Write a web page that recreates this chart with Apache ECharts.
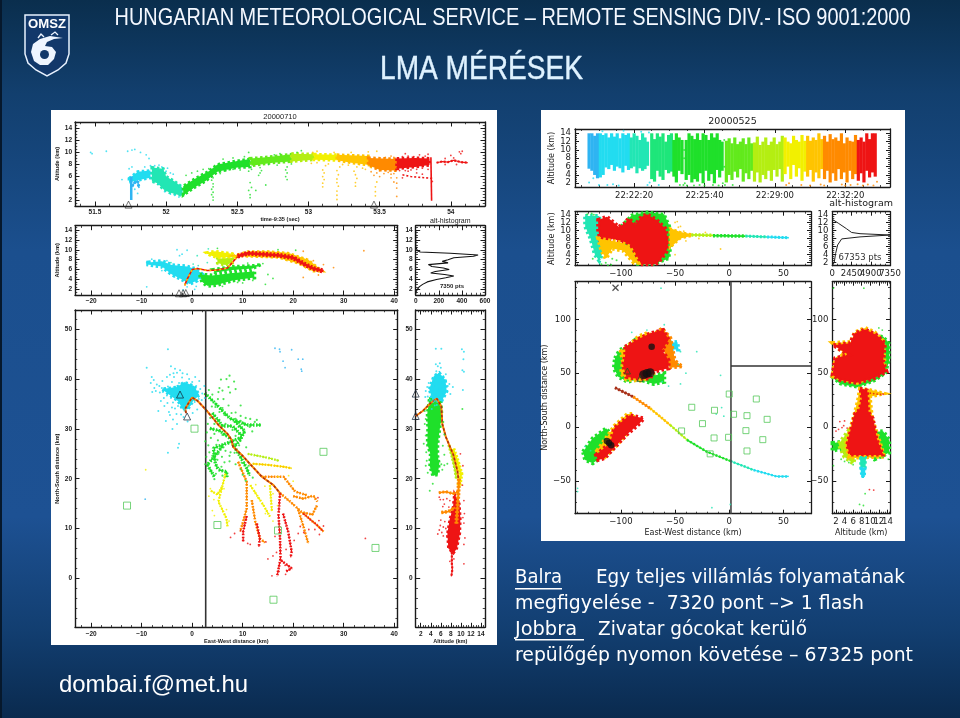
<!DOCTYPE html>
<html><head><meta charset="utf-8"><style>html,body{margin:0;padding:0;background:#123f6e}#c{width:960px;height:718px}</style>
<script src="https://cdn.jsdelivr.net/npm/echarts@6/dist/echarts.min.js"></script></head><body><div id="c"></div>
<script>
// ---------- tick labels
const clockLabels={0:'22:22:20',200:'22:25:40',400:'22:29:00',600:'22:32:20'};
// ---------- panel A: altitude vs time (20000710)
const aBlueCol=[[51.755,2.1],[51.755,6]];
const aBlue=[[51.76,4.4],[51.78,5],[51.8,5.2],[51.81,4.1]];
const aCyanBand=[[51.74,5.7],[51.8,6.8],[51.89,7],[51.89,5.8],[51.8,5.4],[51.74,5]];
const aTealBand=[[51.9,7.5],[51.98,7.3],[52,6],[52.06,5.2],[52.11,4.3],[52.12,2.8],[52.08,3],[52.02,3.4],[51.98,3.9],[51.94,4.9],[51.9,5.2]];
const aGreenBand=[[52.12,2.9],[52.12,4.4],[52.2,5.6],[52.3,6.9],[52.36,8],[52.5,8.6],[52.59,8.9],[52.59,7.6],[52.5,7.5],[52.36,6.8],[52.28,5.3],[52.2,4.2]];
const aLimeGBand=[[52.59,9],[52.7,9.2],[52.88,9.7],[52.88,8.5],[52.75,8.3],[52.6,7.8]];
const aLimeBand=[[52.88,9.8],[53.04,9.7],[53.04,8.8],[52.88,8.5]];
const aYellowBand=[[53.04,9.7],[53.2,9.6],[53.2,8.7],[53.04,8.8]];
const aAmberBand=[[53.2,9.6],[53.42,9.4],[53.43,7.9],[53.3,8.3],[53.2,8.7]];
const aOrangeBand=[[53.42,9.1],[53.62,8.9],[53.62,7],[53.5,7.1],[53.42,7.9]];
const aRedBand=[[53.62,9],[53.75,9.1],[53.85,9],[53.85,7.9],[53.75,7.6],[53.62,7.3]];
const aRedCol=[[53.865,2],[53.86,9.2]];
const aRedTail=[[53.9,8.3],[53.94,8.5],[53.98,8.4],[54.02,8.7],[54.07,8.4],[54.12,8.3]];
const aRedLow=[[53.66,6.3],[53.72,6],[53.77,5.9],[53.82,5.8],[53.87,5.7]];
const aCoolDots=[[51.47,10],[51.48,9.8],[51.58,10.2],[51.69,5.5],[51.73,10.2],[51.76,10.4],[51.78,10.5],[51.74,7.3],[51.76,7.6],[51.8,3.2],[51.78,3.9],[51.82,10],[51.86,9.6],[51.88,9],[51.85,7.6],[51.89,7.8],[51.92,7.8],[51.95,7.9],[51.97,7.6],[52,6.9],[52.03,6.6],[51.95,4.8],[51.99,3.5],[52.03,3.1],[52.06,2.9],[52.09,2.6],[52.01,7.4],[52.05,6.4]];
const aGreenDots=[[52.33,2.1],[52.33,2.6],[52.32,3],[52.33,3.4],[52.32,3.9],[52.33,4.3],[52.33,4.8],[52.32,5.4],[52.33,5.8],[52.22,6.9],[52.26,7.2],[52.3,7.3],[52.14,6.2],[52.18,6.6],[52.38,6.5],[52.42,7],[52.47,7.2],[52.52,7.1],[52.4,8.9],[52.47,9.1],[52.55,9.3],[52.58,10],[52.59,2.5],[52.59,3],[52.58,3.7],[52.6,4.2],[52.59,5],[52.58,6.9],[52.6,7.2],[52.65,6.2],[52.66,6.6],[52.67,7],[52.66,7.5],[52.63,3.7],[52.7,4.6],[52.72,8],[52.76,9.6],[52.8,9.8],[52.85,5.5],[52.84,6],[52.85,6.6],[52.84,7.1],[52.85,7.6],[52.88,8.1],[52.92,10],[52.95,10.3],[52.78,7.9]];
const aWarmDots=[[53.1,4.3],[53.1,4.9],[53.11,5.5],[53.1,6],[53.11,6.6],[53.1,7.1],[53.12,7.8],[53.2,2.2],[53.2,2.9],[53.2,3.6],[53.21,4.4],[53.2,5],[53.2,5.6],[53.21,6.3],[53.2,7],[53.22,7.6],[53.33,4.4],[53.33,5],[53.34,5.7],[53.33,6.3],[53.32,6.9],[53.02,8.2],[53.06,8.3],[53.14,8.1],[53.18,10],[53.06,10.2],[53.03,10],[53.24,8],[53.28,7.9],[53.3,10],[53.34,7.6],[53.38,7.4],[53.4,7.2],[53.44,7.5],[53.47,2.8],[53.47,3.5],[53.47,4.3],[53.48,5.1],[53.42,10.1],[53.48,10.2]];
const aOrangeDots=[[53.5,7],[53.53,6.5],[53.56,6.7],[53.58,6.4],[53.6,6.5],[53.62,5.8],[53.62,4.9],[53.62,4.1],[53.62,2.7],[53.6,5.1],[53.54,9.2],[53.58,9.4],[53.6,9.2],[53.48,6.6],[53.46,6.2],[53.5,6],[53.44,6.8],[53.58,5.8]];
const aRedDots=[[53.64,7],[53.66,9.3],[53.68,7],[53.7,9.4],[53.72,7.1],[53.74,9.3],[53.76,7.2],[53.78,9.6],[53.8,7.4],[53.82,9.4],[53.84,9.7],[53.84,7.2],[53.66,5.8],[53.7,6.9],[53.76,6.6],[53.8,6.4],[53.96,9],[54,9.5],[54.02,9.1],[54.06,10.1],[54.07,9.8],[54.08,10.2],[53.96,8],[54.04,8],[53.87,5.2],[53.68,9.8]];
const aTriangles=[[51.736,1.35],[53.46,1.35]];
// ---------- panel B: altitude vs east-west
const bCyan=[[-8.7,7.4],[-6,7.7],[-4,6.9],[-1,6.6],[1,6],[2,5],[1,3.8],[-0.5,3.1],[-2,4],[-4,5],[-6,6.6],[-8.7,7]];
const bGreenLow=[[1.5,5],[4,4.8],[8,5.3],[12.3,5.6],[12.3,4.4],[8,3.8],[5,2.9],[3,2.7],[2,3.5]];
const bGreenUp=[[4,6],[8,6.6],[12,6.8],[13.7,7],[12,6.2],[8,5.9],[4.5,5.4]];
const bLime=[[5,8.2],[8,8.4],[8,7.3],[6.5,6.9],[5,7.3]];
const bYellow=[[2.8,9.4],[4.5,9.7],[8,9.2],[8.5,8.6],[5,8.4],[3.5,8.9]];
const bAmberTop=[[8,8.8],[11,9.7],[15,9.7],[19,9.4],[23,8],[25,6.4],[26,5.6],[24,5.6],[21,7.2],[17,8.4],[11,8.6]];
const bRedTop=[[9,8.7],[11,9.3],[14,9.1],[17,8.9],[20,8.4],[22,7.2],[24,6.2],[26,5.7]];
const bMain=[[-1.5,2.8],[-1,4],[0,6],[1,6.2],[3,5.8],[5,5.9],[7,6.3],[8,7.5],[9,8.6]];
const bDots=[[-9,2.5],[-9,7.4],[-8,8.1],[-5,7.8],[-2.5,8.8],[-2,9.1],[-3,10],[-1,9.9],[-3.5,4.5],[-1,2.5],[0.5,2],[0.8,2.6],[-1.8,1.9],[-6,5.8],[-4.2,7.4],[0.2,7.1],[1.2,6.8],[3,7.4],[1,8.8],[3.2,10.2],[5,10.3],[9,3.4],[6,2.6],[10,3.3],[12,3.8],[11,7.3],[14,7.2],[15,5],[16,4.2],[14.5,3],[17,10],[20.5,9.9],[22,9.7],[24,7.8],[26,7],[25,4.9],[34,9.8],[22,4.4],[28,6.4]];
const bTriangles=[[-2.6,1.2],[-1.8,1.2],[-1.26,1.25]];
// ---------- panel C: histogram
const cHist=[[0,14],[0,10.6],[5,10.2],[15,9.8],[40,9.55],[300,9.3],[540,8.95],[500,8.7],[330,8.4],[280,8],[230,7.65],[280,7.35],[110,7],[140,6.6],[240,6.3],[290,6],[170,5.6],[130,5.3],[250,5],[330,4.7],[260,4.35],[180,4],[100,3.5],[60,3],[30,2.5],[15,2],[3,1.5],[0,1]];
// ---------- panel D: north-south vs east-west
const dCyanCore=[[-3,38.4],[-1.6,39.4],[0.4,38.6],[1.4,36.8],[0.2,35.6],[-0.8,34],[-1.8,33.8],[-2.8,35.6],[-4.2,36.6],[-6,38]];
const dCyanDots=[[-8,40.4],[-7.6,39.8],[-7,38.9],[-6.5,38.6],[-6,38.2],[-5.8,37.4],[-5.4,37.9],[-5,36.7],[-4.8,38.5],[-4.4,37.6],[-4.2,36.2],[-4,39.4],[-3.8,35.3],[-3.6,40.4],[-3.4,38.2],[-3.2,37],[-3,41.3],[-3,35.9],[-2.8,34.6],[-2.6,39.2],[-2.5,38],[-2.2,36.6],[-2,40.3],[-1.9,35.1],[-1.7,37.5],[-1.5,33.9],[-1.4,39],[-1.2,36],[-1,38.2],[-0.8,37],[-0.6,40],[-0.4,34.8],[-0.2,38.6],[0,39.4],[0.3,37.8],[0.5,35.4],[0.8,38.6],[1,37.2],[1.3,36],[1.6,38],[1.9,35.8],[2,37.1],[-4.6,33.4],[-5.2,31.6],[-3.8,31.9],[-3.1,33],[-4.2,42.6],[-3.4,42.1],[-2.4,41.8],[-1.9,41.2],[-6.7,33.6],[-5.5,34.6],[-4.4,32.8],[-3.9,30],[-2.6,27],[-2.8,26.2],[-4.8,25.2],[-9,42.3],[-4.8,46],[-7.9,37.4],[-7.2,37.6],[-6.4,37.3],[-5.6,36.2],[-4.9,35.2],[-4,34.3],[-3.4,34.1],[-2.2,32.9],[-1.7,32.4],[-5.9,39.6],[-5,40.4],[-4.4,40.9],[-3.7,41.2],[-1,41],[0.6,40.4],[1.4,39.6],[2.4,38.6],[2.5,36.2],[1,33.9],[0.1,33.2],[-0.9,31.5],[-3,31],[-6.2,35.6],[-7.5,38.2],[-8.2,39.2]];
const dFarCool=[[16.4,46.2],[17.4,45.5],[17.3,46],[19.7,45.9],[18,43.6],[21,44],[21.9,44],[18.4,42.3],[21.7,41.6],[21.6,42],[-9.3,15.9]];
const dGreen1=[[2.5,37.2],[4.2,35.5],[7.5,32.1],[10.8,30.8],[13.8,30.8]];
const dGreen2=[[3.5,30.1],[5.5,29.6],[7.5,28.1]];
const dGreen3=[[7.8,27.5],[4.2,26.1],[4.6,23],[5.2,21.8],[6.8,21.4],[6.9,20.2]];
const dGreen4=[[8,27],[9.5,24.5],[10.8,22.1],[11.4,20.6]];
const dGreen5=[[4,33.2],[6,30.6],[8,30.6],[10,28.4],[8,27.6]];
const dGreen6=[[6,26.5],[4,24],[3,22.8],[4.4,20.4]];
const dGreen7=[[8.4,31.6],[10.4,29.6],[9.4,27.6],[8.4,26.6]];
const dGreenDots=[[7.4,40.7],[6.8,40],[5.7,39.9],[5.4,38.2],[6,37.7],[7.2,38.4],[8.3,39.5],[8.6,38],[5.2,37.4],[7.5,37.3],[3.3,37.8],[4,36.9],[5.1,36],[6.2,36],[3.9,34.5],[6,34.2],[7.2,34.7],[9.6,34.7],[8.6,33.3],[10.6,32.2],[12.4,31.4],[11.5,32],[9.6,31.6],[11.9,29.5],[10.4,29.3],[3.1,31],[2.9,29.3],[2.6,27.5],[3.7,28.2],[5.1,27.7],[6.2,26.3],[3.4,25.3],[4,24.6],[2.6,22.9],[3.3,22.1],[5.9,24.4],[6.4,23.3],[7.4,23.5],[8.6,22.9],[9.6,21.9],[11,21.5],[12,20.2],[10.6,19.6],[4.4,19.9],[7.6,25.3],[9.3,26.7],[10.7,26.3],[4.6,34.4],[5.4,33.4],[6.4,32.8],[7.8,33.2],[8.6,32],[9.6,32.6],[3.6,32.2],[4.4,31],[5.4,31.8],[6.6,31],[8,29.8],[9.2,30.4],[10.2,31.2],[11.4,30.4],[12.8,31.8],[4.4,29],[6,28.8],[7.2,27],[8.6,28.6],[5.2,25],[6.6,25.6],[7.4,24.6],[8.4,25.2],[4.8,26.8],[3.2,26.7],[2.8,24.4],[5,23.8],[5.8,22.4],[3.8,21.4],[4.7,21],[6,20.6],[10,20.8],[11.2,22.6],[9.8,23.2]];
const dLimeUp=[[11,25],[13,24.6],[15.4,24.1],[17.2,23.6]];
const dYellow1=[[12,23],[14.8,22.8],[18.1,22.4],[19.7,22.1]];
const dYellow2=[[6.6,21],[6.2,19.4],[5.2,15.4],[6.8,12],[7,10.4]];
const dYellow3=[[3.7,17.6],[5,16.8],[6,18.5]];
const dYellow4=[[11.5,18.7],[14.1,14.7],[15.4,12.4]];
const dYellow5=[[15.4,18.7],[15.8,13.4]];
const dYellowDots=[[3.6,18],[3.3,16.5],[4.3,15.8],[4,13.6],[4.4,12.6],[6.8,13.8],[7.3,11.5],[6.3,18],[5.5,17.6],[12.4,17.4],[13,16.2],[14.4,18.5],[16,17],[16.9,14.6],[14.5,13],[16,11.5],[-9.2,21.8],[19.1,20.6],[17,20.4],[20,19.5],[12.6,18.8]];
const dOrange1=[[13.8,20.4],[18.1,20.4],[20.4,17.4],[22.7,16.7]];
const dOrange2=[[17.4,17.1],[19.4,15.4],[22,13],[24.7,10.7],[26,9.4]];
const dOrange3=[[9.1,23.4],[10.8,19.4],[10.8,14],[10.1,11.4],[9.5,9.4]];
const dOrange4=[[11.8,15.7],[12.5,11.4],[13.4,8],[14.4,7.2]];
const dOrange5=[[21,13.8],[22,10.5],[22.7,8],[23,7]];
const dOrange6=[[22,13.2],[23.8,12.8],[24.8,14.8]];
const dOrange7=[[20,16.5],[22,16],[24,16.6],[24.8,15.4]];
const dRed1=[[17.4,17.1],[17.1,12.7],[17.4,8],[17.5,4],[16.8,0.3]];
const dRed2=[[17.6,3.6],[19.7,2],[18.4,1.3]];
const dRed3=[[18,13],[19,9.4],[19.7,5.4],[19.5,4.2]];
const dRed4=[[10.8,12.5],[10.1,9.4],[10.1,7.4]];
const dRed5=[[12.8,11],[13.4,8],[13.2,6.3]];
const dRedDots=[[9.6,9.6],[8.4,9],[7.6,8.2],[11,7],[11.5,6.8],[14.6,7.3],[15,3.9],[16,4.5],[15.8,0.5],[21,9],[21.4,10.4],[22.1,9.2],[23.1,9.8],[24.3,9.8],[25.2,8.8],[25.1,11.6],[26,10.5],[24.9,16.2],[34.3,8],[18.6,5.8],[16.4,8.4],[20.2,7.6],[16.7,5.2],[18.4,2.6],[17.2,1.4],[18.5,0.8]];
const dMain=[[-1.2,33.2],[-1.4,34],[-0.6,35.4],[0,36.3],[1,35.7],[2.5,34.1],[4,32.3],[5.2,30.8],[7,29],[7.8,27.8],[8.1,26.4],[10,24.6],[11.5,22.9],[13.8,20.4],[16.1,18.7],[17.4,17.1]];
const dSquares=[[-12.9,14.6],[0.46,30.05],[26,25.4],[5,10.7],[17,9.6],[36.3,6.1],[16.1,-4.3]];
const dTriangles=[[-2.4,36.9],[-1,32.5]];
const dCutLine=[[2.68,-9.84],[2.68,53.88]];
// ---------- panel E: north-south vs altitude
const eCyanDots=[[3.4,36.5],[3.8,35.8],[4,37.4],[4.2,38.4],[4.4,36.6],[4.5,39.6],[4.6,37.6],[4.7,35.6],[4.8,40.6],[5,38.6],[5,36.9],[5.1,41.6],[5.2,40],[5.3,37.7],[5.4,42.6],[5.5,39.1],[5.6,41],[5.7,36.6],[5.8,38.1],[5.9,40],[6,42.3],[6.1,37.3],[6.2,39.3],[6.4,38.2],[6.5,40.6],[6.6,37],[6.8,38.8],[7,39.8],[7.3,37.5],[7.7,39],[8.4,38.4],[5,43],[5.8,43.2],[6.1,46.1],[5,46.1],[10.2,46],[10.6,45.5],[10.5,44],[10.3,41.8],[10.6,41.5],[10.4,37.8],[4.8,34.7],[4.2,34],[5.2,34.8],[3,37.6],[3.3,38.4],[3.6,39.2],[2.9,36.4],[7,41],[7.4,38.6],[7.9,37]];
const eCyanBlob=[[3.7,38],[4.6,40.6],[5.7,41.3],[6.9,39.8],[7.2,37.5],[6.2,35.6],[4.4,35.5]];
const eGreenBlob=[[3.7,36],[5,36.7],[6,36],[6.2,33],[5.8,30],[5.4,27],[5.4,24.5],[5.7,23],[5.4,20.8],[4.4,20.6],[3.8,22.5],[3.9,25],[3.3,27],[3.4,30],[3.3,33]];
const eGreenDots=[[2.8,33.6],[3,32],[2.8,31],[3,28.7],[2.6,27],[3.1,25.3],[3.2,23.6],[3,22.6],[3.4,21.2],[6.5,31.4],[6.7,28.9],[6.4,26.6],[6.7,24.8],[6.1,22.9],[6.3,21.8],[6.7,22.7],[3.8,17.6],[4.4,19],[7.3,23],[10.3,34]];
const eMain=[[1,32.6],[2.4,33.6],[4,35.2],[5.2,36.1],[6.1,34.5],[6.3,31],[7,28.4],[8.5,24.8],[9.3,21.6],[9.5,20]];
const eLime=[[7.6,26.8],[8.3,24.2],[8.8,22],[9.1,20]];
const eYellow=[[8.4,26],[9.3,23.4],[10,21],[9.6,18.4]];
const eOrangeBar=[[5.6,17.2],[7,17.4],[8.4,17],[9.6,17.4]];
const eOrangeBar2=[[6.1,13.2],[7.5,13.4],[8.8,14.2]];
const eOrangeCol=[[9.6,20],[9.5,17],[9.3,14],[9.1,11]];
const eRedBlob=[[8.7,17],[9.7,15],[9.9,12],[9.8,9],[9.2,6],[8.5,5],[7.5,6],[7.3,9],[7.8,12],[8.4,14]];
const eRedCol=[[8.2,6],[8.2,3],[8.3,1.8],[8.1,0.4]];
const eWarmDots=[[5.9,15.8],[6.5,15.8],[7.2,16],[7.8,15.6],[5.7,16.3],[6.7,14.9],[7.6,14.3],[6.4,14.4],[6,11.7],[5.9,10.6],[5.7,9.7],[6.2,9.2],[6.5,10.3],[5.4,8.9],[6.8,11.4],[7,10],[7.2,8.5],[10.4,12.2],[10.6,15.6],[10.7,13],[10.8,8.1],[10.6,6.8],[10.6,2.9],[7.8,3.4],[8.6,3.9],[10.3,18.7],[10.4,22.6],[9.9,25],[10.6,11.1],[6.5,8.5]];
const eTriangles=[[1,37.1],[1,32.6]];
// ---------- panel F: altitude columns over time [seconds from first tick, low, high]
const fBlue=[[-128,5.5,14],[-120,5,14],[-112,4,13.4],[-104,3.2,14]];
const fCyan=[[-96,3.4,14],[-88,4,13.6],[-80,5.8,14],[-72,5.4,13],[-64,6.4,14],[-56,5,13.2],[-48,6,14],[-40,5.6,12.8],[-32,4.6,14],[-24,6.2,13.6],[-16,5.2,14]];
const fTeal=[[-8,5.6,13],[0,6,14],[8,4.4,13.4],[16,5.6,12.4],[24,5,14],[31,5.4,13],[38,6.2,12]];
const fGreenTeal=[[50,3,14],[58,2.4,12.6],[66,5,14],[74,3.6,13.2],[82,2.8,14],[90,5.2,12],[98,4.4,13.6],[106,4.8,14]];
const fGreen=[[113,3.6,12.4],[120,2.2,14],[128,5,13],[136,4.2,12.4],[148,2.8,12.4],[156,4,14],[164,2.2,13.4],[172,3,12.6],[180,2.4,14],[188,4.4,12.4],[196,2,14],[204,5,13.6],[212,2.6,12.4],[220,4.2,14],[228,2,13],[236,5.2,14],[243,3.4,12.4],[250,5,12]];
const fLimeG=[[262,2.2,12.2],[270,4,12.8],[278,2.8,11.6],[286,4.8,13],[294,3.4,11.4],[302,5.4,12],[310,2.4,12.8],[318,4.4,11.4],[326,3,13],[334,5,11.6]];
const fLime=[[342,2.4,11.8],[350,4.6,13.2],[358,2.2,11.2],[366,4,12],[374,3,13],[382,5,11.2],[390,2.6,12],[398,5.2,13],[406,3.6,11.4],[414,5.4,12],[421,2.4,13.4]];
const fYellow=[[429,4.2,13],[437,6,12],[445,3,11.6],[453,6.4,13.4],[461,3.6,12.4],[469,5.6,12],[477,2.6,13.6],[485,4.8,12.2]];
const fAmber=[[493,3.6,13.4],[501,5.2,12.2],[509,2.4,13],[517,4.6,12.4],[525,3.2,14],[533,5.4,12.6]];
const fOrange=[[541,3,13.4],[549,5,12],[557,2.2,13.8],[565,4.4,12.6],[573,2.6,13],[581,5.4,12.2],[589,3,14],[597,4.6,11.6],[605,2.2,13],[613,5,12.2],[621,3,12],[629,4.2,13.6]];
const fRed=[[637,2.6,12.4],[645,4.4,13],[653,2.2,12],[661,5,14],[669,3.4,12.6],[677,4.6,14],[685,3.6,14]];
const fCoolDots=[[-128,2.2],[-100,1.6],[-116,3.2],[-76,1.6],[-60,1.8],[-44,1.5],[38,1.6],[42,14.2],[44,2.2],[70,1.6],[-90,14.5],[-30,14.6],[20,14.4]];
const fGreenDots=[[130,1.6],[140,1.6],[144,2],[150,1.5],[170,1.5],[186,1.6],[200,1.5],[224,1.6],[240,1.5],[252,2],[258,1.6],[256,6],[142,8],[142,10],[256,12.4],[280,1.6]];
const fWarmDots=[[432,1.6],[440,2],[475,1.6],[500,1.5],[530,1.7],[540,1.5],[590,1.7],[600,1.5],[615,1.6],[635,1.8],[650,1.5],[664,1.7],[680,1.5],[690,2.4]];
// ---------- panel G: altitude vs east-west (aircraft)
const gTealBlob=[[-133,13.6],[-120,13.6],[-120,8],[-116,5],[-120,2.5],[-124,4],[-128,8],[-133,11]];
const gGreenTop=[[-100,11],[-90,13.8],[-76,14.6],[-60,14],[-55,11],[-53,7],[-56,3],[-70,1.6],[-85,1.6],[-95,5]];
const gLowFringe=[[-121,8],[-100,7],[-92,6],[-84,2],[-88,2],[-98,5],[-108,5.5],[-114,3],[-118,5]];
const gRedBlob=[[-121,12.6],[-113,13.4],[-102,10.9],[-96,11.8],[-93,13],[-87,11.4],[-81,13.4],[-76,14],[-67,12.6],[-59,10.5],[-56,7.2],[-58,4.7],[-65,2.2],[-68,1.6],[-82,1.6],[-84,2.2],[-89,4.7],[-93,6.4],[-101,7.2],[-107,8],[-113,7.2],[-119,7.6],[-121,10.1]];
const gAmberTail=[[-55,10.6],[-45,9.6],[-35,9.1],[-35,8.6],[-45,8],[-55,5.6]];
const gLime=[[-35,8.9],[-15,8.8]];
const gGreen=[[-15,8.7],[15,8.6]];
const gTeal=[[15,8.6],[35,8.4]];
const gCyan=[[35,8.4],[55,8.2]];
const gDots=[[-131,14],[-127,14.2],[-125,13.9],[-126,3],[-118,1.6],[-114,2],[-112,1.4],[-109,1.5],[-108,3],[-104,2.6],[-50,4],[-48,12.2],[-47,10.8],[-50,12],[-45,11],[-8,5.4],[-42,9.8],[-40,7.4],[-28,8],[-22,9.5]];
// ---------- panel H: histogram
const hHist=[[127,12.6],[765,11.8],[1830,10.4],[2460,9.5],[3530,9.2],[7350,8.87],[7350,8.6],[3530,8.4],[1190,7.9],[680,6.4],[425,4.3],[255,2.2],[100,1.5]];
// ---------- panel I: north-south vs east-west (aircraft)
const iOrangeTip=[[-72,85],[-62,92],[-54,83],[-50,62],[-43,56],[-55,55],[-60,70],[-66,80]];
const iTeal=[[-55,78],[-48,79],[-47,72],[-54,72]];
const iGreen=[[-105.5,63.8],[-101,71.5],[-94,75],[-88,80],[-85,45],[-70,40],[-60,42],[-60,50],[-94,42],[-102.5,46.7],[-106.5,54.5]];
const iYellow=[[-100,70],[-90,78],[-84,84],[-74,88],[-70,50],[-80,43],[-95,44],[-100,50],[-98,60]];
const iRed1=[[-96,74.6],[-85.5,80.8],[-73,87],[-61,90],[-56,81],[-62,71.5],[-56,62],[-56,54.5],[-70,51.4],[-73,45],[-87,45],[-95,46.7],[-98,57.6],[-96,67]];
const iGreen2=[[-135,-23],[-126,-10.5],[-113.6,-1.2],[-109,-7.4],[-119.5,-29],[-126,-33.7],[-133,-30.6]];
const iYellow2=[[-122,-22],[-112,-8],[-106,1],[-94,12],[-88,12],[-96,-8],[-104,-17],[-115,-28]];
const iRed2=[[-123,-26],[-110,-15],[-106,-1],[-92,11],[-79,8],[-82.6,3.4],[-95,-7.4],[-104,-17],[-115,-29],[-121,-30.6]];
const iTrackRed=[[-105.5,36.5],[-88.6,28]];
const iTrackOrange=[[-88.6,28],[-73,17.3]];
const iTrackAmber=[[-73,17.3],[-54.6,1.9]];
const iTrackLime=[[-54.6,1.9],[-39,-12]];
const iTrackGreen=[[-39,-12],[-20.7,-23],[1,-31.6]];
const iTrackTeal=[[1,-31.6],[22.5,-40]];
const iTrackCyan=[[22.5,-40],[44,-46],[55,-46]];
const iBlackBig=[[-76,49.8],[-73,50.4],[-79,48.5]];
const iBlack=[[-71.6,74.6],[-111,-15],[-109,-17],[-113,-13]];
const iTriangles=[[-94,52],[-82.4,45]];
const iCross=[[-105,129.4]];
const iSquares=[[0,30.6],[25,26],[-34.6,18.3],[-13.6,15.5],[4,11.8],[16.4,10.5],[35,7.1],[-24.7,3.1],[-44,-3.7],[15.4,-3.4],[-0.6,-9.6],[-14,-10.2],[31,-11.8],[16.4,-22.3],[-17.6,-25]];
const iDots=[[-63,129],[-8,48],[-30,70],[-90,88],[-60,95],[-76,90],[-16,-75],[1,-72],[-7,18],[-12,12],[-5,10],[-140,-60],[-140,-57],[-45,70],[-40,50],[-45,40],[-56,38],[-62,42],[-47,58],[-128,-22],[-133,-18]];
const iCutV=[[1.6,-80.6],[1.6,135]];
const iCutH=[[1.6,56.7],[75.5,56.7]];
// ---------- panel J: north-south vs altitude (aircraft)
const jGreen1=[[10,86],[13,84],[14.4,78],[14.4,62],[13.6,50],[11,43],[7,37],[3,40],[1.2,46],[3,48],[12,60]];
const jOrange1=[[1.2,78],[5.4,79],[6.4,88],[8.8,92],[11,88],[13,80],[13.4,54],[7,41],[1.2,47],[1.8,62],[4,68]];
const jRed1=[[1.4,76],[5.3,77.7],[6.4,87],[8.8,90.6],[11.5,85.4],[13.4,77.7],[13,60.7],[13.8,51.4],[10.7,45],[6.8,41],[2.9,43.7],[1.2,48.3],[1.8,63.8],[4.9,67]];
const jGreen2=[[10,-5],[13,-4],[14.4,-12],[14.4,-24],[11,-30],[9,-20]];
const jGreen2b=[[1.2,-15],[3,-14],[3.5,-20],[1.2,-22]];
const jLime=[[5,-3],[6.5,0],[7,-20],[6,-34],[4,-28],[2.6,-16]];
const jOrange2=[[7.5,36],[9.6,35],[13.5,31],[10,28],[10.5,8],[12,-10],[13.4,-28],[5,-29],[4.2,-16],[5.5,2],[6.2,12],[7,24]];
const jRed2=[[7.6,36],[9.3,34.4],[9.4,29.7],[9.6,14.2],[10.7,8],[11.5,-10.5],[13,-26],[5.3,-26],[4.5,-16.7],[5.7,1.9],[6.4,12.7],[7.4,16],[8,26]];
const jStemGreen=[[7.6,-28],[9,-28],[8.9,-38],[7.7,-38]];
const jStemCyan=[[7.7,-38],[8.9,-38],[8.7,-46.5],[7.9,-46.5]];
const jRedDots=[[10,31.4],[10.8,31],[11.6,30.6],[12.4,30.2],[13,30.4],[3.4,-0.6],[2.6,-2.2],[2,-3.8],[3.8,1.2],[4.6,-1],[2.9,5],[4,5.6],[9.8,-58.2],[10.8,-58.6]];
const jGreenDots=[[3.2,-30],[4,-32],[5,-33],[6,-35],[7.5,-72],[8.4,-73],[8.5,129],[1.4,129],[12.8,90],[12,92],[14.2,-30],[1.4,-36],[13,-28],[8.8,-62]];
// ---------- palette
const C={blue:'#2fb4f2',cyan:'#22dcf0',teal:'#22e6b4',gteal:'#1ee67a',green:'#1fe02a',limeg:'#62ea1c',lime:'#b4ee12',yellow:'#f2f000',amber:'#ffc400',orange:'#ff8a00',red:'#ee1414',brown:'#a83018',square:'#55c85a',ink:'#1a1a1a'};

const range=(a,b,s)=>{const o=[];for(let v=a;v<=b+1e-9;v+=s)o.push(+v.toFixed(4));return o;};
const grids=[],xAxes=[],yAxes=[],series=[],base=[];
function labelStyle(opts,values){return {show:true,interval:0,customValues:values,fontSize:opts.fs,fontWeight:opts.fw,color:opts.ink,fontFamily:opts.ff,margin:opts.margin,formatter:opts.formatter||(v=>String(v).replace('-','\u2212')),showMinLabel:true,showMaxLabel:true,hideOverlap:false};}
function side(list,dim,g,pos,ext,major,minor,len,opts){
  const first=list.length;
  const common={gridIndex:g,type:'value',min:ext[0],max:ext[1],position:pos,splitLine:{show:false},minorTick:{show:false}};
  list.push(Object.assign({},common,{
    axisLine:{show:true,onZero:false,lineStyle:{color:opts.ink,width:opts.lw}},
    axisTick:{show:true,inside:true,length:len,customValues:major,lineStyle:{color:opts.ink,width:1}},
    axisLabel:opts.labels?labelStyle(opts,major.filter(v=>!(opts.alt||[]).includes(v))):{show:false},
    name:opts.name||'',nameLocation:'middle',nameGap:opts.nameGap||12,nameTextStyle:{fontSize:opts.nfs,fontWeight:opts.tfw||opts.fw,color:opts.ink,fontFamily:opts.ff}
  }));
  // the companion axis holds the short ticks and any label the first axis would drop for crowding
  list.push(Object.assign({},common,{axisLine:{show:false,onZero:false},axisTick:{show:!!minor.length,inside:true,length:len*0.5,customValues:minor,lineStyle:{color:opts.ink,width:0.8}},axisLabel:opts.labels&&opts.alt?labelStyle(opts,opts.alt):{show:false}}));
  return first;
}
function panel(rect,xr,yr,xt,yt,st,o){
  const g=grids.length;
  grids.push({left:rect[0],top:rect[1],width:rect[2],height:rect[3],containLabel:false});
  const base_={ink:C.ink,lw:st.lw,fs:st.fs,fw:st.fw,ff:st.ff,nfs:st.nfs,margin:st.margin};
  const xi=side(xAxes,'x',g,'bottom',xr,xt[0],xt[1],st.len,Object.assign({},base_,{labels:true,name:o.xName,nameGap:o.xGap,formatter:o.xFmt,alt:o.xAlt}));
  side(xAxes,'x',g,'top',xr,xt[0],xt[1],st.len,Object.assign({},base_,{labels:false,name:o.title,nameGap:o.titleGap,nfs:o.titleSize||st.nfs,tfw:'normal'}));
  const yi=side(yAxes,'y',g,'left',yr,yt[0],yt[1],st.len,Object.assign({},base_,{labels:true,name:o.yName,nameGap:o.yGap,alt:o.yAlt}));
  side(yAxes,'y',g,'right',yr,yt[0],yt[1],st.len,Object.assign({},base_,{labels:false}));
  base.push([xi,yi]);
  return g;
}
const at=g=>({xAxisIndex:base[g][0],yAxisIndex:base[g][1]});
function dots(g,data,color,size){series.push(Object.assign({type:'scatter',data,symbolSize:size||1.8,itemStyle:{color},silent:true,clip:false,z:4},at(g)));}
function track(g,data,color,width,dash){series.push(Object.assign({type:'line',data,showSymbol:false,symbol:'none',lineStyle:{color,width,type:dash||'solid'},silent:true,z:3},at(g)));}
function ribbon(g,data,color,w){track(g,data,color,w,[2,1.6]);track(g,data,color,w*0.5);}
function speck(g,data,color,w){track(g,data,color,w,[1.5,1.5]);track(g,data,color,w*0.45,[5,2]);}
function patch(g,data,color,edge){series.push(Object.assign({type:'custom',data,encode:{x:0,y:1},silent:true,z:2,renderItem(p,api){
  if(p.dataIndex!==0)return null;
  return {type:'polygon',shape:{points:data.map(d=>api.coord(d))},style:{fill:color,stroke:color,lineWidth:edge===undefined?4:edge,lineDash:[2.5,2.5]}};
}},at(g)));}
function columns(g,data,color){series.push(Object.assign({type:'custom',data,encode:{x:0,y:[1,2]},silent:true,z:2,renderItem(p,api){
  const a=api.coord([api.value(0),api.value(1)]),b=api.coord([api.value(0),api.value(2)]);
  return {type:'rect',shape:{x:a[0]-1.6,y:b[1],width:3.2,height:a[1]-b[1]},style:{fill:color}};
}},at(g)));}
function marks(g,data,symbol,size,color,w,fill){series.push(Object.assign({type:'scatter',data,symbol,symbolSize:size,clip:false,silent:true,z:6,itemStyle:{color:fill||'transparent',borderColor:color,borderWidth:w}},at(g)));}

// ---------- left figure
const L={len:4.5,lw:1.4,fs:6.5,nfs:5.6,fw:'bold',ff:'Liberation Sans',margin:3};
const R={len:4,lw:1.3,fs:8.5,nfs:8,fw:'normal',ff:'DejaVu Sans',margin:4};
const altT=[range(2,14,2),range(1.5,14.5,.5)], ewL=[range(-20,40,10),range(-22,40,2)], nsL=[range(0,50,10),range(-8,52,2)], altB=[range(2,14,2),range(1,14.5,.5)];
const A=panel([75,122,410,84],[51.36,54.24],[1.12,15.05],[range(51.5,54,.5),range(51.4,54.2,.1)],altT,L,{title:'20000710',titleGap:1,titleSize:7.5,xName:'time-9:35 (sec)',xGap:9,yName:'Altitude (km)',yGap:9});
const B=panel([75,225.7,322.7,69.3],[-23.2,40.7],[.85,14.87],ewL,altT,L,{yName:'Altitude (km)',yGap:9});
const CH=panel([415.7,225.7,69.3,69.3],[0,600],[.85,14.87],[range(0,600,200),range(0,600,40)],altT,L,{title:'alt-histogram',titleGap:1,titleSize:7});
const D=panel([75,310,322.7,317.3],[-23.2,40.7],[-9.84,53.88],ewL,[nsL[0],nsL[1]],L,{xName:'East-West distance (km)',xGap:9,yName:'North-South distance (km)',yGap:10});
const E=panel([415.7,310,69.3,317.3],[1,14.8],[-9.84,53.88],altB,nsL,L,{xName:'Altitude (km)',xGap:9});
// ---------- right figure
const ewR=[range(-100,50,50),range(-140,70,10)], altR=[range(2,14,2),range(2,14,.5)];
const F=panel([575,129,315,58],[-168,727],[1.11,15.03],[range(0,600,200),range(-150,700,50)],altR,R,{title:'20000525',titleGap:2,titleSize:9.5,xFmt:v=>clockLabels[v]||'',yName:'Altitude (km)',yGap:16,yAlt:[4,12]});
const G=panel([575,211.7,236,54],[-142.4,75.5],[1.26,14.65],ewR,altR,R,{yName:'Altitude (km)',yGap:16,yAlt:[4,12]});
const H=panel([832.3,211.7,57.7,54],[0,7350],[1.26,14.65],[[0,2450,4900,7350],range(0,7350,612.5)],altR,R,{title:'alt-histogram',titleGap:3,titleSize:9.5,xAlt:[4900],yAlt:[4,12]});
const I=panel([575,281.7,236,232],[-142.4,75.5],[-80.6,135],ewR,[range(-50,100,50),range(-80,130,10)],R,{xName:'East-West distance (km)',xGap:15,yName:'North-South distance (km)',yGap:22});
const J=panel([832.3,281.7,57.7,232],[1.14,14.6],[-80.6,135],[range(2,14,2),range(1.5,14.5,.5)],[range(-50,100,50),range(-80,130,10)],R,{xName:'Altitude (km)',xGap:15,xAlt:[12]});

// ---------- panel A marks
[[aCoolDots,C.cyan],[aGreenDots,C.green],[aWarmDots,C.amber],[aOrangeDots,C.orange],[aRedDots,C.red]].forEach(([d,c])=>dots(A,d,c,1.8));
track(A,aBlueCol,C.blue,2.5);ribbon(A,aBlue,C.blue,3);
patch(A,aCyanBand,C.cyan,3);patch(A,aTealBand,C.teal,3);patch(A,aGreenBand,C.green,3);patch(A,aLimeGBand,C.limeg,3);patch(A,aLimeBand,C.lime,3);patch(A,aYellowBand,C.yellow,3);patch(A,aAmberBand,C.amber,3);patch(A,aOrangeBand,C.orange,3);patch(A,aRedBand,C.red,3);
track(A,aRedCol,C.red,1.6);ribbon(A,aRedTail,C.red,2.2);track(A,aRedLow,C.red,1.6,[2,2]);
marks(A,aTriangles,'triangle',7,'#222',0.8);
// ---------- panel B marks
patch(B,bCyan,C.cyan);patch(B,bGreenLow,C.green);patch(B,bGreenUp,C.green,3);patch(B,bLime,C.lime,3);patch(B,bYellow,C.yellow,3);patch(B,bAmberTop,C.amber,2);
ribbon(B,bRedTop,C.red,5);track(B,bMain,C.red,1.6);track(B,bMain,C.amber,1.6,[2,3]);
dots(B,bDots.slice(0,14),C.cyan);dots(B,bDots.slice(14,20),C.teal);dots(B,bDots.slice(20,32),C.green);dots(B,bDots.slice(32),C.orange);
marks(B,bTriangles,'triangle',7,'#222',0.8);
// ---------- histograms
track(CH,cHist,'#111',1.1);
track(H,hHist,'#222',1);
// ---------- panel D marks
patch(D,dCyanCore,C.cyan,3);
dots(D,dCyanDots,C.cyan,2);dots(D,dFarCool,C.blue,1.8);
[dGreen1,dGreen2,dGreen3,dGreen4,dGreen5,dGreen6,dGreen7].forEach(d=>speck(D,d,C.green,3.4));
dots(D,dGreenDots,C.green,2.2);
speck(D,dLimeUp,C.lime,2.4);
[dYellow1,dYellow2,dYellow3,dYellow4,dYellow5].forEach(d=>speck(D,d,C.yellow,2.4));
speck(D,dYellow1,C.amber,1.6);
dots(D,dYellowDots,C.yellow,1.8);
[dOrange1,dOrange2,dOrange3,dOrange4,dOrange5,dOrange6,dOrange7].forEach(d=>speck(D,d,C.orange,2.6));
[dRed1,dRed2,dRed3,dRed4,dRed5].forEach(d=>speck(D,d,C.red,2.6));
dots(D,dRedDots,C.red,1.8);
speck(D,dOrange2.slice(2),C.red,1.6);
track(D,dMain,C.orange,2);track(D,dMain,C.brown,1.6,[2.5,2]);
track(D,dCutLine,'#333',1.6);
marks(D,dSquares,'rect',7,C.square,1);
marks(D,dTriangles,'triangle',7,'#123',0.9);
// ---------- panel E marks
patch(E,eGreenBlob,C.green,3);patch(E,eCyanBlob,C.cyan,3);
dots(E,eCyanDots,C.cyan,2);dots(E,eGreenDots,C.green,2);
ribbon(E,eYellow,C.yellow,5);ribbon(E,eLime,C.lime,3);
ribbon(E,eOrangeBar,C.orange,3);ribbon(E,eOrangeBar2,C.orange,3.5);ribbon(E,eOrangeCol,C.orange,4);
patch(E,eRedBlob,C.red,2.5);ribbon(E,eRedCol,C.red,2.2);
dots(E,eWarmDots,C.red,1.8);
track(E,eMain,C.orange,2);track(E,eMain,C.brown,1.6,[2.5,2]);
marks(E,eTriangles,'triangle',7,'#123',0.9);
// ---------- panel F marks
[[fBlue,C.blue],[fCyan,C.cyan],[fTeal,C.teal],[fGreenTeal,C.gteal],[fGreen,C.green],[fLimeG,C.limeg],[fLime,C.lime],[fYellow,C.yellow],[fAmber,C.amber],[fOrange,C.orange],[fRed,C.red]].forEach(([d,c])=>columns(F,d,c));
dots(F,fCoolDots,C.cyan,2);dots(F,fGreenDots,C.green,2);dots(F,fWarmDots,C.orange,2);
// ---------- panel G marks
patch(G,gTealBlob,C.teal);patch(G,gGreenTop,C.green,3);patch(G,gRedBlob,C.red);patch(G,gLowFringe,C.amber);
patch(G,gAmberTail,C.amber,2);ribbon(G,gLime,C.lime,3.5);ribbon(G,gGreen,C.green,3.5);ribbon(G,gTeal,C.teal,3);ribbon(G,gCyan,C.cyan,3);
dots(G,gDots.slice(0,10),C.green,2);dots(G,gDots.slice(10),C.amber,1.8);
// ---------- panel I marks
patch(I,iGreen,C.green);patch(I,iTeal,C.cyan);patch(I,iOrangeTip,C.orange,3);patch(I,iYellow,C.amber);patch(I,iRed1,C.red);
patch(I,iGreen2,C.green);patch(I,iYellow2,C.amber);patch(I,iRed2,C.red);
ribbon(I,iTrackRed,C.brown,3);ribbon(I,iTrackOrange,C.orange,3);ribbon(I,iTrackAmber,C.amber,2.6);ribbon(I,iTrackLime,C.lime,2.4);ribbon(I,iTrackGreen,C.green,2.4);ribbon(I,iTrackTeal,C.teal,2.4);ribbon(I,iTrackCyan,C.cyan,2.4);
dots(I,iDots,C.teal,1.8);
track(I,iCutV,'#444',1.6);track(I,iCutH,'#333',1.4);
marks(I,iSquares,'rect',6,C.square,1);
marks(I,iBlackBig,'circle',9,'#111',0,'#111');
marks(I,iBlack,'circle',6.5,'#111',0,'#111');
marks(I,iTriangles,'triangle',6,'#1a5a1a',0.9);
marks(I,iCross,'path://M0 0L10 10M10 0L0 10',6,'#222',1.2);
// ---------- panel J marks
patch(J,jGreen1,C.green,3);patch(J,jOrange1,C.amber);patch(J,jRed1,C.red);
patch(J,jGreen2,C.green);patch(J,jGreen2b,C.green);patch(J,jLime,C.lime);patch(J,jOrange2,C.amber,3);patch(J,jRed2,C.red,3);
patch(J,jStemGreen,C.teal,2);patch(J,jStemCyan,C.cyan,2);
dots(J,jRedDots,C.red,1.8);dots(J,jGreenDots,C.green,1.8);

// ---------- slide furniture
const meter=document.createElement('canvas').getContext('2d');
function fit(text,font,x,y,w,opt){meter.font=font;const s=w/meter.measureText(text).width;
  return {type:'text',x,y,scaleX:s,z:20,silent:true,style:Object.assign({text,font,fill:'#fff',align:'left',verticalAlign:'middle'},opt||{})};}
const glow={shadowColor:'rgba(0,10,30,.8)',shadowBlur:2,shadowOffsetX:1,shadowOffsetY:1};
const BODY='20px "DejaVu Sans"';
const graphic=[
 {type:'rect',z:-5,silent:true,shape:{x:51,y:110,width:446,height:535},style:{fill:'#fff'}},
 {type:'rect',z:-5,silent:true,shape:{x:541,y:110,width:364,height:431},style:{fill:'#fff'}},
 {type:'rect',z:-6,silent:true,shape:{x:0,y:0,width:2,height:718},style:{fill:'#06182c'}},
 {type:'polygon',z:10,silent:true,shape:{points:[[25,15],[69,15],[69,54],[66,63],[58,70],[47,76],[36,70],[28,63],[25,54]]},style:{fill:'#12386a',stroke:'#e8f2ff',lineWidth:1.5}},
 {type:'polygon',z:11,silent:true,shape:{points:[[31,52],[33,44],[40,39],[50,36],[63,38],[54,39],[47,42],[45,46],[52,47],[56,52],[54,59],[48,65],[40,65],[34,61]]},style:{fill:'#eef5ff'}},
 {type:'circle',z:12,silent:true,shape:{cx:44.5,cy:54.5,r:4.5},style:{fill:'#12386a'}},
 {type:'polyline',z:11,silent:true,shape:{points:[[38,38],[41,34],[44,37]]},style:{fill:'none',stroke:'#eef5ff',lineWidth:1.3}},
 {type:'polyline',z:11,silent:true,shape:{points:[[51,35],[55,32],[58,35]]},style:{fill:'none',stroke:'#eef5ff',lineWidth:1.3}},
 fit('OMSZ','bold 13px "Liberation Sans"',28,24,38),
 fit('HUNGARIAN METEOROLOGICAL SERVICE \u2013 REMOTE SENSING DIV.- ISO 9001:2000','24px "Liberation Sans"',114.5,18,796,{fill:'#f4f8ff'}),
 fit('LMA M\u00c9R\u00c9SEK','34px "Liberation Sans"',380,70,203,{fill:'#dff2ff',stroke:'#dff2ff',lineWidth:.4,shadowColor:'rgba(0,10,30,.9)',shadowBlur:2,shadowOffsetX:2,shadowOffsetY:2}),
 fit('dombai.f@met.hu','24px "Liberation Sans"',59,685,189),
 fit('Balra',BODY,515,578,47,glow),
 fit('Egy teljes vill\u00e1ml\u00e1s folyamat\u00e1nak',BODY,596,578,309,glow),
 fit('megfigyel\u00e9se -  7320 pont \u2013> 1 flash',BODY,515,604,349,glow),
 fit('Jobbra',BODY,515,630,62,glow),
 fit('Zivatar g\u00f3cokat ker\u00fcl\u0151',BODY,598,630,209,glow),
 fit('rep\u00fcl\u0151g\u00e9p nyomon k\u00f6vet\u00e9se \u2013 67325 pont',BODY,515,656,398,glow),
 {type:'rect',z:20,silent:true,shape:{x:515,y:588,width:47,height:1.4},style:{fill:'#fff'}},
 {type:'rect',z:20,silent:true,shape:{x:515,y:639,width:69,height:1.4},style:{fill:'#fff'}},
 {type:'text',z:20,silent:true,x:452,y:286.7,style:{text:'7350 pts',font:'bold 6px "Liberation Sans"',fill:'#222',align:'center',verticalAlign:'middle'}},
 {type:'text',z:20,silent:true,x:860,y:258,style:{text:'67353 pts',font:'8.5px "DejaVu Sans"',fill:'#333',align:'center',verticalAlign:'middle'}}
];
const chart=echarts.init(document.getElementById('c'),null,{renderer:'canvas'});
chart.setOption({animation:false,
 backgroundColor:{type:'linear',x:0,y:0,x2:0,y2:1,colorStops:[{offset:0,color:'#0a2e4d'},{offset:.13,color:'#123f6e'},{offset:.35,color:'#1b4f8e'},{offset:.72,color:'#1d5193'},{offset:.88,color:'#123e70'},{offset:1,color:'#0a2a4e'}]},
 grid:grids,xAxis:xAxes,yAxis:yAxes,series,graphic});
</script></body></html>
